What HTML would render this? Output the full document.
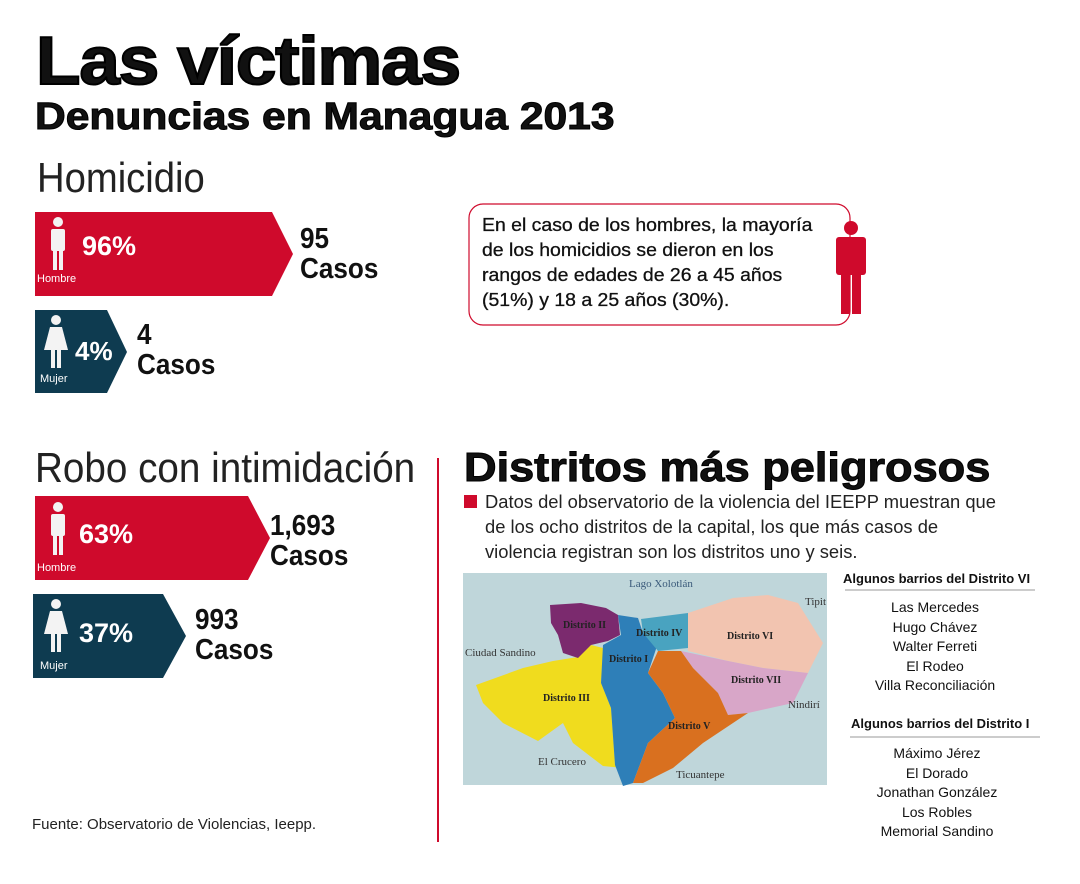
<!DOCTYPE html>
<html><head><meta charset="utf-8"><style>
body{margin:0;width:1080px;height:884px;background:#fff;position:relative;overflow:hidden;font-family:"Liberation Sans",sans-serif;color:#111}
.a{position:absolute;white-space:nowrap}
</style></head><body>
<div class="a" style="left:36px;top:22px;font-size:68px;font-weight:900;letter-spacing:-1px;transform:scaleX(1.07);transform-origin:0 0;-webkit-text-stroke:2px #000">Las víctimas</div>
<div class="a" style="left:35px;top:96px;font-size:38px;font-weight:bold;transform:scaleX(1.12);transform-origin:0 0;-webkit-text-stroke:1px #000">Denuncias en Managua 2013</div>
<div class="a" style="left:37px;top:154px;font-size:42px;color:#222;transform:scaleX(0.91);transform-origin:0 0">Homicidio</div>
<div class="a" style="left:35px;top:444px;font-size:42px;color:#222;transform:scaleX(0.92);transform-origin:0 0">Robo con intimidación</div>

<svg class="a" style="left:0;top:0" width="1080" height="884">
 <g>
  <polygon points="35,212 272,212 293,254 272,296 35,296" fill="#cf0a2c"/>
 </g>
 <g>
  <polygon points="35,310 107,310 127,352 107,393 35,393" fill="#0e3b50"/>
 </g>
 <g>
  <polygon points="35,496 248,496 270,538 248,580 35,580" fill="#cf0a2c"/>
 </g>
 <g>
  <polygon points="33,594 163,594 186,636 163,678 33,678" fill="#0e3b50"/>
 </g>
 <g fill="#f3f3f3">
  <circle cx="58" cy="222" r="5"/><rect x="51" y="229" width="14" height="22" rx="2"/><rect x="53" y="250" width="4" height="20"/><rect x="59" y="250" width="4" height="20"/>
  <circle cx="58" cy="507" r="5"/><rect x="51" y="514" width="14" height="22" rx="2"/><rect x="53" y="535" width="4" height="20"/><rect x="59" y="535" width="4" height="20"/>
 </g>
 <g fill="#f3f3f3">
  <circle cx="56" cy="320" r="5"/><polygon points="50,327 62,327 68,350 44,350"/><rect x="51" y="350" width="4" height="18"/><rect x="57" y="350" width="4" height="18"/>
  <circle cx="56" cy="604" r="5"/><polygon points="50,611 62,611 68,634 44,634"/><rect x="51" y="634" width="4" height="18"/><rect x="57" y="634" width="4" height="18"/>
 </g>
 <rect x="469" y="204" width="381" height="121" rx="14" fill="none" stroke="#cf0a2c" stroke-width="1.2"/>
 <g fill="#cf0a2c">
  <circle cx="851" cy="228" r="7"/><rect x="836" y="237" width="30" height="38" rx="3"/><rect x="841" y="272" width="9" height="42"/><rect x="852" y="272" width="9" height="42"/>
 </g>
 <line x1="438" y1="458" x2="438" y2="842" stroke="#cf0a2c" stroke-width="2"/>
 <rect x="464" y="495" width="13" height="13" fill="#cf0a2c"/>
 <line x1="845" y1="590" x2="1035" y2="590" stroke="#999"/>
 <line x1="850" y1="737" x2="1040" y2="737" stroke="#999"/>
 <g transform="translate(463,573)">
  <rect width="364" height="212" fill="#bfd6da"/>
  <polygon fill="#f0dc1e" points="13,112 60,95 90,88 115,84 128,72 140,75 138,110 148,135 152,192 160,195 140,193 110,170 100,150 75,168 40,150 20,130"/>
  <polygon fill="#2e7fb8" points="140,72 158,62 155,42 175,45 180,60 195,70 185,100 200,120 212,145 185,170 170,210 160,213 152,192 148,135 138,110"/>
  <polygon fill="#7b2a6e" points="87,32 118,30 143,35 155,42 157,62 145,68 128,72 115,85 100,80 95,62 88,50"/>
  <polygon fill="#49a3c0" points="178,46 225,40 225,75 195,78 180,60"/>
  <polygon fill="#f2c4b0" points="225,40 270,25 305,22 335,30 360,70 345,100 300,95 265,88 225,78"/>
  <polygon fill="#d8a6c8" points="218,78 265,88 300,95 345,100 330,130 285,140 265,142 255,120 230,95"/>
  <polygon fill="#d9701f" points="195,78 218,78 230,95 255,120 265,142 285,140 240,170 210,195 180,210 170,210 185,170 212,145 200,120 185,100"/>
  <g font-family="Liberation Serif,serif" font-size="11" fill="#333">
   <text x="166" y="14" fill="#3a5a7a">Lago Xolotlán</text>
   <text x="342" y="32">Tipit</text>
   <text x="2" y="83">Ciudad Sandino</text>
   <text x="325" y="135">Nindirí</text>
   <text x="75" y="192">El Crucero</text>
   <text x="213" y="205">Ticuantepe</text>
   <g font-weight="bold" font-size="10" fill="#222">
    <text x="100" y="55">Distrito II</text><text x="173" y="63">Distrito IV</text><text x="264" y="66">Distrito VI</text>
    <text x="146" y="89">Distrito I</text><text x="268" y="110">Distrito VII</text><text x="80" y="128">Distrito III</text><text x="205" y="156">Distrito V</text>
   </g>
  </g>
 </g>
</svg>

<div class="a" style="left:37px;top:273px;font-size:11px;color:#fff">Hombre</div>
<div class="a" style="left:82px;top:231px;font-size:27px;font-weight:bold;color:#fff">96%</div>
<div class="a" style="left:300px;top:224px;font-size:29px;font-weight:bold;line-height:30px;transform:scaleX(0.9);transform-origin:0 0">95<br>Casos</div>
<div class="a" style="left:40px;top:373px;font-size:11px;color:#fff">Mujer</div>
<div class="a" style="left:75px;top:336px;font-size:26px;font-weight:bold;color:#fff">4%</div>
<div class="a" style="left:137px;top:320px;font-size:29px;font-weight:bold;line-height:30px;transform:scaleX(0.9);transform-origin:0 0">4<br>Casos</div>

<div class="a" style="left:37px;top:562px;font-size:11px;color:#fff">Hombre</div>
<div class="a" style="left:79px;top:519px;font-size:27px;font-weight:bold;color:#fff">63%</div>
<div class="a" style="left:270px;top:511px;font-size:29px;font-weight:bold;line-height:30px;transform:scaleX(0.9);transform-origin:0 0">1,693<br>Casos</div>
<div class="a" style="left:40px;top:660px;font-size:11px;color:#fff">Mujer</div>
<div class="a" style="left:79px;top:618px;font-size:27px;font-weight:bold;color:#fff">37%</div>
<div class="a" style="left:195px;top:605px;font-size:29px;font-weight:bold;line-height:30px;transform:scaleX(0.9);transform-origin:0 0">993<br>Casos</div>

<div class="a" style="left:482px;top:212px;font-size:18.5px;line-height:25px;color:#111;-webkit-text-stroke:0.3px #111;transform:scaleX(1.05);transform-origin:0 0">En el caso de los hombres, la mayoría<br>de los homicidios se dieron en los<br>rangos de edades de 26 a 45 años<br>(51%) y 18 a 25 años (30%).</div>

<div class="a" style="left:464px;top:444px;font-size:41px;font-weight:bold;transform:scaleX(1.1);transform-origin:0 0;-webkit-text-stroke:1px #000">Distritos más peligrosos</div>
<div class="a" style="left:485px;top:490px;font-size:18px;line-height:25px;color:#222;transform:scaleX(1.02);transform-origin:0 0">Datos del observatorio de la violencia del IEEPP muestran que<br>de los ocho distritos de la capital, los que más casos de<br>violencia registran son los distritos uno y seis.</div>

<div class="a" style="left:843px;top:571px;font-size:13px;font-weight:bold">Algunos barrios del Distrito VI</div>
<div class="a" style="left:845px;top:598px;width:180px;text-align:center;font-size:14px;line-height:19.6px">Las Mercedes<br>Hugo Chávez<br>Walter Ferreti<br>El Rodeo<br>Villa Reconciliación</div>
<div class="a" style="left:851px;top:716px;font-size:13px;font-weight:bold">Algunos barrios del Distrito I</div>
<div class="a" style="left:847px;top:744px;width:180px;text-align:center;font-size:14px;line-height:19.6px">Máximo Jérez<br>El Dorado<br>Jonathan González<br>Los Robles<br>Memorial Sandino</div>

<div class="a" style="left:32px;top:816px;font-size:15px;color:#222">Fuente: Observatorio de Violencias, Ieepp.</div>
</body></html>
